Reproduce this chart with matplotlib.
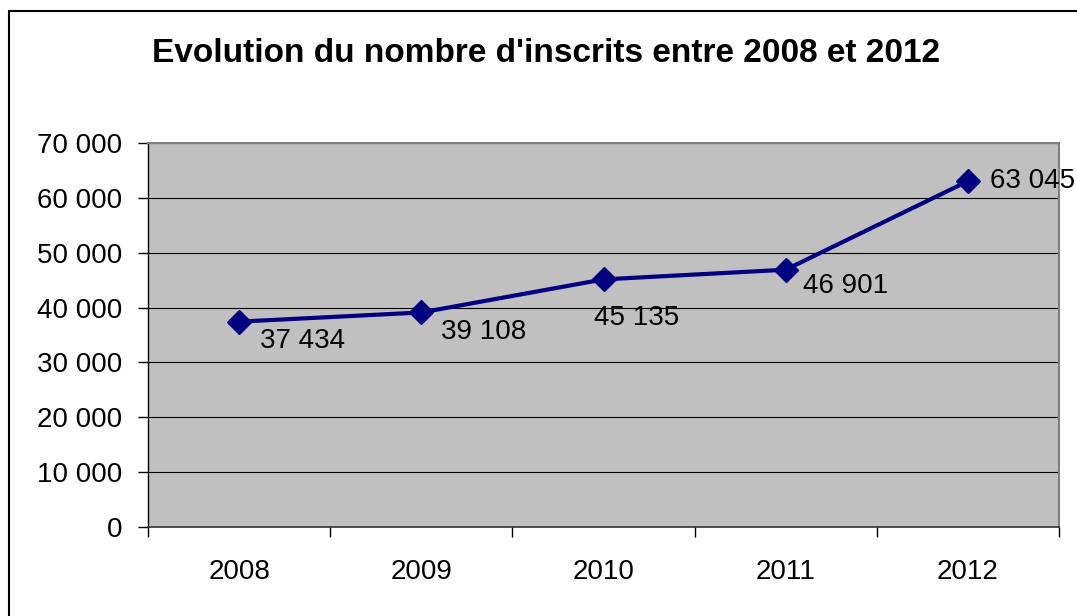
import matplotlib
matplotlib.use("Agg")
import matplotlib.pyplot as plt
from matplotlib.patches import Rectangle
from matplotlib.ticker import FuncFormatter, FixedLocator

plt.rcParams['font.family'] = ['Liberation Sans', 'DejaVu Sans']

# Data
years = ['2008', '2009', '2010', '2011', '2012']
inscrits = [37434, 39108, 45135, 46901, 63045]
y_ticks = [0, 10000, 20000, 30000, 40000, 50000, 60000, 70000]
title = "Evolution du nombre d'inscrits entre 2008 et 2012"

# Label offsets in pixels (dx to label left edge, dy to label centre)
label_offsets = [(21, -19), (20, -20), (-9, -39), (17, -16), (22, 0)]

LINE_COLOR = "#000080"
PLOT_BG = "#C0C0C0"

W, H = 1077, 616
fig = plt.figure(figsize=(W / 100, H / 100), dpi=100)
fig.patch.set_facecolor('white')

# Chart area border (cut off at right and bottom)
fig.add_artist(Rectangle((9 / W, -0.1), 1.2, 1 - 11 / H + 0.1,
                         transform=fig.transFigure, fill=False,
                         edgecolor='black', linewidth=1.5))

ax = fig.add_axes([148 / W, 89 / H, (1059 - 148) / W, (527 - 143) / H])
ax.set_facecolor(PLOT_BG)

x = list(range(len(years)))
ax.plot(x, inscrits, color=LINE_COLOR, linewidth=3, marker='D',
        markersize=12, markerfacecolor=LINE_COLOR,
        markeredgecolor=LINE_COLOR, zorder=3)

ax.set_xlim(-0.5, len(years) - 0.5)
ax.set_ylim(0, 70000)

# y axis
ax.set_yticks(y_ticks)
ax.yaxis.set_major_formatter(
    FuncFormatter(lambda v, p: "{:,.0f}".format(v).replace(",", " ")))
ax.grid(axis='y', color='black', linewidth=0.8)
ax.set_axisbelow(True)

# x axis: ticks between categories, labels at centres
ax.xaxis.set_major_locator(FixedLocator([i - 0.5 for i in range(len(years) + 1)]))
ax.xaxis.set_minor_locator(FixedLocator(x))
ax.set_xticklabels([], minor=False)
ax.set_xticklabels(years, minor=True)
ax.tick_params(axis='x', which='major', length=7.5, width=1, color='black')
ax.tick_params(axis='x', which='minor', length=0, pad=23, labelsize=20)
ax.tick_params(axis='y', length=7.5, width=1, pad=11, labelsize=20)

for side in ['top', 'right']:
    ax.spines[side].set_color('#808080')
    ax.spines[side].set_linewidth(1.5)
ax.spines['left'].set_color('black')
ax.spines['bottom'].set_color('#303030')
ax.spines['left'].set_linewidth(1)
ax.spines['bottom'].set_linewidth(1.2)

# Data labels
for i, v in enumerate(inscrits):
    dx, dy = label_offsets[i]
    ax.annotate("{:,.0f}".format(v).replace(",", " "), (i, v),
                xytext=(dx, dy), textcoords='offset pixels',
                ha='left', va='center', fontsize=20, color='black')

fig.text(546 / W, 1 - 53 / H, title, ha='center', va='center',
         fontsize=24, fontweight='bold')

fig.savefig("out.png", dpi=100)
